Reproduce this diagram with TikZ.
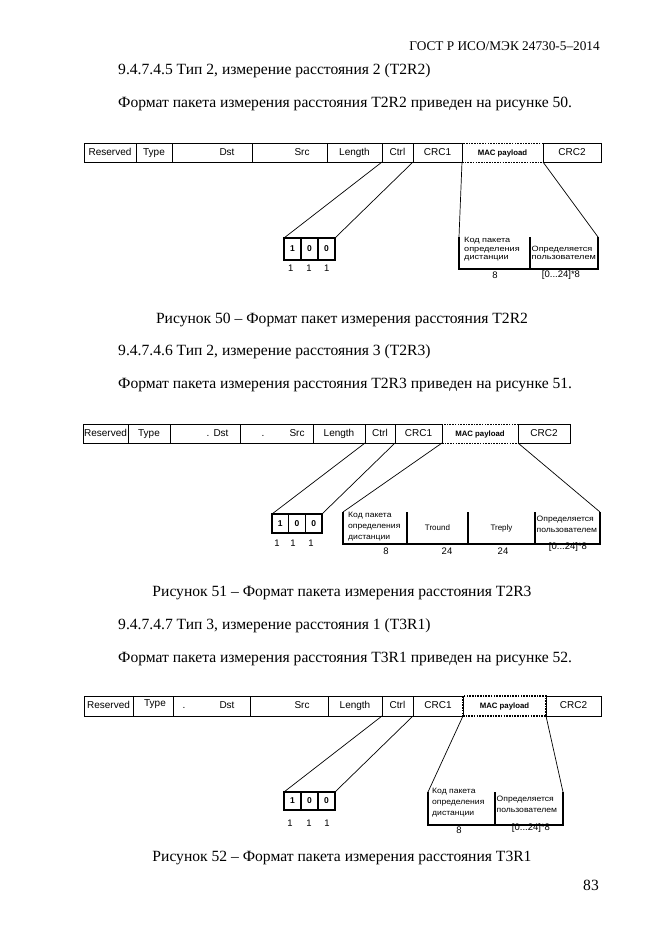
\documentclass[tikz,border=0pt]{standalone}
\usepackage{fontspec}
\setmainfont{Liberation Serif}
\newfontfamily\dgm{Liberation Sans}
\newfontfamily\dgmx[FakeStretch=1.2]{Liberation Sans}
\newfontfamily\dgmy[FakeStretch=1.1]{Liberation Sans}
\newcommand\fcell[7]{\node[#6, minimum width={(#3-#2)*1pt}, minimum height={(#5-#4)*1pt}] (#1) at ({(#2+#3)/2},{(#4+#5)/2}) {#7};}
\tikzset{
 fcellbox/.style={draw, line width=0.8pt, inner sep=0pt, outer sep=0pt, text height=7pt, text depth=2pt, font=\dgm\fontsize{10}{11}\selectfont},
 macbox/.style={fcellbox, dash pattern=on 1.6pt off 1.1pt, font=\dgm\bfseries\fontsize{7.8}{9}\selectfont},
 bitbox/.style={draw, line width=1.1pt, inner sep=0pt, outer sep=0pt, font=\dgm\bfseries\fontsize{8.5}{9}\selectfont},
 subcell/.style={inner sep=0pt, outer sep=0pt, font=\dgm\fontsize{8}{9}\selectfont},
 lbl/.style={font=\dgm\fontsize{10}{11}\selectfont, inner sep=0pt, text height=7pt, text depth=2pt},
 subtext/.style={font=\dgmx\fontsize{7.6}{8.3}\selectfont, align=left, inner sep=0pt, anchor=north west},
 subtextb/.style={font=\dgmy\fontsize{7.8}{11}\selectfont, align=left, inner sep=0pt, anchor=north west},
 numlbl/.style={font=\dgm\fontsize{9.5}{10}\selectfont, inner sep=0pt},
 conn/.style={line width=0.7pt},
 frame/.style={line width=1.1pt},
 body/.style={font=\fontsize{15.6}{18}\selectfont, anchor=mid west, inner sep=0pt},
 caption/.style={font=\fontsize{15.6}{18}\selectfont, inner sep=0pt},
}
\begin{document}
\begin{tikzpicture}[x=1pt,y=-1pt]
\useasboundingbox[fill=white] (0,0) rectangle (661,935);
% header and text
\node[font=\fontsize{13.3}{15}\selectfont, anchor=mid east, inner sep=0pt] (hdr) at (600,48) {ГОСТ Р ИСО/МЭК 24730-5–2014};
\node[body] (s1) at (118,72) {9.4.7.4.5 Тип 2, измерение расстояния 2 (T2R2)};
\node[body] (s1t) at (118,105) {Формат пакета измерения расстояния T2R2 приведен на рисунке 50.};
\node[caption] (c50) at (342,320) {Рисунок 50 – Формат пакет измерения расстояния T2R2};
\node[body] (s2) at (118,353) {9.4.7.4.6 Тип 2, измерение расстояния 3 (T2R3)};
\node[body] (s2t) at (118,386) {Формат пакета измерения расстояния T2R3 приведен на рисунке 51.};
\node[caption] (c51) at (342,593) {Рисунок 51 – Формат пакета измерения расстояния T2R3};
\node[body] (s3) at (118,627) {9.4.7.4.7 Тип 3, измерение расстояния 1 (T3R1)};
\node[body] (s3t) at (118,660) {Формат пакета измерения расстояния T3R1 приведен на рисунке 52.};
\node[caption] (c52) at (342,858) {Рисунок 52 – Формат пакета измерения расстояния T3R1};
\node[font=\fontsize{15.6}{18}\selectfont, anchor=mid east, inner sep=0pt] (pg) at (599,888) {83};

% ================= Figure 50
\fcell{a8}{462}{543}{143}{162}{macbox}{MAC payload}
\fcell{a1}{84}{136}{143}{162}{fcellbox}{Reserved}
\fcell{a2}{136}{172}{143}{162}{fcellbox}{Type}
\fcell{a3}{172}{252}{143}{162}{fcellbox}{}
\fcell{a4}{252}{327}{143}{162}{fcellbox}{}
\fcell{a5}{327}{382}{143}{162}{fcellbox}{Length}
\fcell{a6}{382}{413}{143}{162}{fcellbox}{Ctrl}
\fcell{a7}{413}{462}{143}{162}{fcellbox}{CRC1}
\fcell{a9}{543}{601}{143}{162}{fcellbox}{CRC2}
\node[lbl] (a3t) at (227,152.5) {Dst};
\node[lbl] (a4t) at (302,152.5) {Src};
\fcell{ab1}{284}{301}{238}{260}{bitbox}{1}
\fcell{ab2}{301}{318}{238}{260}{bitbox}{0}
\fcell{ab3}{318}{335}{238}{260}{bitbox}{0}
\draw[conn] (a6.south west) -- (ab1.north west);
\draw[conn] (a6.south east) -- (ab3.north east);
\node[numlbl] (an1) at (290.7,268) {1};
\node[numlbl] (an2) at (309,268) {1};
\node[numlbl] (an3) at (326.7,268) {1};
\fcell{ap1}{459}{530}{237}{269}{subcell}{}
\fcell{ap2}{530}{598}{237}{269}{subcell}{}
\draw[conn] (a8.south west) -- (ap1.north west);
\draw[conn] (a8.south east) -- (ap2.north east);
\draw[frame] (ap1.north west) -- (ap1.south west) -- (ap2.south east) -- (ap2.north east);
\draw[frame] (ap1.north east) -- (ap1.south east);
\node[subtext] (apt1) at (464,237.5) {Код пакета\\определения\\дистанции};
\node[subtext] (apt2) at (531.5,245.8) {Определяется\\пользователем};
\node[numlbl] (apn1) at (495,275.5) {8};
\node[numlbl] (apn2) at (561,275.5) {[0...24]*8};

% ================= Figure 51
\fcell{b8}{442}{518}{424}{443}{macbox}{MAC payload}
\fcell{b1}{83}{128}{424}{443}{fcellbox}{Reserved}
\fcell{b2}{128}{170}{424}{443}{fcellbox}{Type}
\fcell{b3}{170}{240}{424}{443}{fcellbox}{}
\fcell{b4}{240}{313}{424}{443}{fcellbox}{}
\fcell{b5}{313}{365}{424}{443}{fcellbox}{Length}
\fcell{b6}{365}{395}{424}{443}{fcellbox}{Ctrl}
\fcell{b7}{395}{442}{424}{443}{fcellbox}{CRC1}
\fcell{b9}{518}{570}{424}{443}{fcellbox}{CRC2}
\node[lbl] (b3d) at (208,433.5) {.};
\node[lbl] (b3t) at (221,433.5) {Dst};
\node[lbl] (b4d) at (263,433.5) {.};
\node[lbl] (b4t) at (297,433.5) {Src};
\fcell{bb1}{272}{288.7}{514}{533}{bitbox}{1}
\fcell{bb2}{288.7}{305.3}{514}{533}{bitbox}{0}
\fcell{bb3}{305.3}{322}{514}{533}{bitbox}{0}
\draw[conn] (b6.south west) -- (bb1.north west);
\draw[conn] (b6.south east) -- (bb3.north east);
\node[numlbl] (bn1) at (277,543) {1};
\node[numlbl] (bn2) at (293,543) {1};
\node[numlbl] (bn3) at (311,543) {1};
\fcell{bp1}{343}{407}{512}{544}{subcell}{}
\fcell{bp2}{407}{468}{512}{544}{subcell}{Tround}
\fcell{bp3}{468}{535}{512}{544}{subcell}{Treply}
\fcell{bp4}{535}{600}{512}{544}{subcell}{}
\draw[conn] (b8.south west) -- (bp1.north west);
\draw[conn] (b8.south east) -- (bp4.north east);
\draw[frame] (bp1.north west) -- (bp1.south west) -- (bp4.south east) -- (bp4.north east);
\draw[frame] (bp1.north east) -- (bp1.south east);
\draw[frame] (bp2.north east) -- (bp2.south east);
\draw[frame] (bp3.north east) -- (bp3.south east);
\node[subtextb] (bpt1) at (348,511.5) {Код пакета\\определения\\дистанции};
\node[subtextb] (bpt4) at (536.5,515.5) {Определяется\\пользователем};
\node[numlbl] (bpn1) at (386,551) {8};
\node[numlbl] (bpn2) at (447,551) {24};
\node[numlbl] (bpn3) at (503,551) {24};
\node[numlbl] (bpn4) at (568,547.5) {[0...24]*8};

% ================= Figure 52
\fcell{c8}{463}{546}{696}{716}{macbox, line width=1.2pt}{MAC payload}
\fcell{c1}{84}{133}{696}{716}{fcellbox}{Reserved}
\fcell{c2}{133}{173}{696}{716}{fcellbox}{}
\fcell{c3}{173}{250}{696}{716}{fcellbox}{}
\fcell{c4}{250}{328}{696}{716}{fcellbox}{}
\fcell{c5}{328}{382}{696}{716}{fcellbox}{Length}
\fcell{c6}{382}{413}{696}{716}{fcellbox}{Ctrl}
\fcell{c7}{413}{463}{696}{716}{fcellbox}{CRC1}
\fcell{c9}{546}{601}{696}{716}{fcellbox}{CRC2}
\node[lbl] (c2t) at (155,704) {Type};
\node[lbl] (c3d) at (184,706) {.};
\node[lbl] (c3t) at (227,706) {Dst};
\node[lbl] (c4t) at (302,706) {Src};
\fcell{cb1}{284}{301}{792}{810}{bitbox}{1}
\fcell{cb2}{301}{318}{792}{810}{bitbox}{0}
\fcell{cb3}{318}{335}{792}{810}{bitbox}{0}
\draw[conn] (c6.south west) -- (cb1.north west);
\draw[conn] (c6.south east) -- (cb3.north east);
\node[numlbl] (cn1) at (290,823) {1};
\node[numlbl] (cn2) at (309,823) {1};
\node[numlbl] (cn3) at (327,823) {1};
\fcell{cp1}{428}{495}{792}{825}{subcell}{}
\fcell{cp2}{495}{563}{792}{825}{subcell}{}
\draw[conn] (c8.south west) -- (cp1.north west);
\draw[conn] (c8.south east) -- (cp2.north east);
\draw[frame] (cp1.north west) -- (cp1.south west) -- (cp2.south east) -- (cp2.north east);
\draw[frame] (cp1.north east) -- (cp1.south east);
\node[subtextb] (cpt1) at (432,788) {Код пакета\\определения\\дистанции};
\node[subtextb] (cpt2) at (496.5,795.5) {Определяется\\пользователем};
\node[numlbl] (cpn1) at (459,830) {8};
\node[numlbl] (cpn2) at (531,828.5) {[0...24]*8};
\end{tikzpicture}
\end{document}
